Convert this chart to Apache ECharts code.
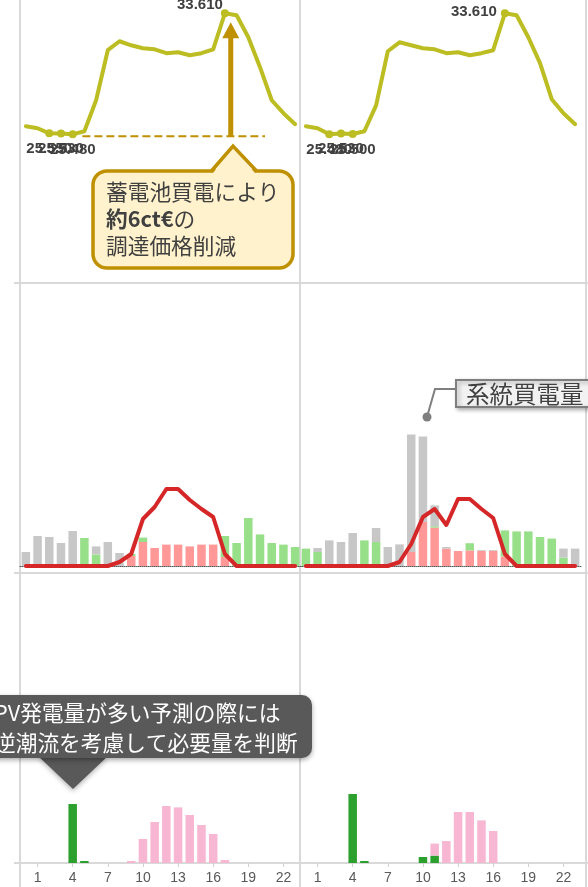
<!DOCTYPE html>
<html><head><meta charset="utf-8">
<script src="https://cdn.jsdelivr.net/npm/echarts@6/dist/echarts.min.js"></script>
<style>html,body{margin:0;padding:0;background:#fff}#c{width:588px;height:887px}</style>
</head><body><div id="c"></div>
<script>
// ---------- data ----------
const hours = ['0','1','2','3','4','5','6','7','8','9','10','11','12','13','14','15','16','17','18','19','20','21','22','23'];
// top row: price (ct€/kWh)
const priceDay1 = [26.03,25.89,25.55,25.53,25.48,25.69,27.77,31.13,31.73,31.46,31.26,31.19,30.93,30.99,30.79,30.93,31.19,33.61,33.48,32.00,29.99,27.77,26.90,26.16];
const priceDay2 = [26.03,25.89,25.48,25.53,25.50,25.69,27.43,31.06,31.66,31.46,31.26,31.19,30.93,30.99,30.79,30.93,31.13,33.61,33.48,32.00,30.26,27.84,26.90,26.16];
// middle row: supply mix (stacked) + PV generation line
const pvSelfDay1  = [0,0,0,0,0,0,0,0,0,5,12,9,10.7,10.7,9.8,10.7,10.7,4.5,0,0,0,0,0,0];
const battDisDay1 = [0,0,0,0,0,14,5.8,0,0,1,2.2,0,0,0,0,0,0,10.5,11.5,24,15.8,11.5,10.7,9.5];
const gridBuyDay1 = [7,15,14.5,11.5,17.5,0,4,12,6.5,0,0,0,0,0,0,0,0,0,0,0,0,0,0,0];
const pvGenDay1   = [0,0,0,0,0,0,0,0,2,6,23.5,29.5,38.5,38.5,33,28.5,24.5,6,0,0,0,0,0,0];
const pvSelfDay2  = [0,0,0,0,0,0,0,0,0,7,22,19.2,8.7,7.5,7.8,7.5,7.5,4.8,0,0,0,0,0,0];
const battDisDay2 = [8.7,7,0,0,0,12.8,12,0,0,0,0,0.7,0,0,3.6,0,0,13,17.3,17.3,14.5,13.7,4.2,0];
const gridBuyDay2 = [0,2,12.8,12,16.5,0,7,9.5,10.8,58.7,42.8,10.4,0.8,0,0,0.4,0.4,0,0,0,0,0,4.5,8.7];
const pvGenDay2   = [0,0,0,0,0,0,0,0,2,11,24.5,28.5,20.5,33.5,33.5,28.5,24,6,0,0,0,0,0,0];
// bottom row: battery charging
const battBuyDay1  = [0,0,0,0,29.5,1,0,0,0,0,0,0,0,0,0,0,0,0,0,0,0,0,0,0];
const pvChargeDay1 = [0,0,0,0,0,0,0,0,0,1,12,20.5,28.5,27.8,24,19,14.5,1.5,0,0,0,0,0,0];
const battBuyDay2  = [0,0,0,0,34.5,1,0,0,0,0,3,3.7,0,0,0,0,0,0,0,0,0,0,0,0];
const pvChargeDay2 = [0,0,0,0,0,0,0,0,0,0,0,6,11,25.5,25.5,21.3,16,0,0,0,0,0,0,0];

// ---------- chart ----------
const chart = echarts.init(document.getElementById('c'), null, {renderer:'canvas'});
const colLeft = [20, 300], colW = 281;
const rows = [{top:0,h:283},{top:286,h:280},{top:583,h:280}];
const grids = [], xAxes = [], yAxes = [];
const yRange = [[15.5,34.5],[0,140],[0,140]];
rows.forEach((r,ri)=>{
  colLeft.forEach((l,ci)=>{
    grids.push({left:l, top:r.top, width:colW, height:r.h, containLabel:false, outerBoundsMode:'none'});
    const gi = grids.length-1;
    const xa = {type:'category', data:hours, gridIndex:gi, boundaryGap:true,
      axisLine:{show:false}, axisTick:{show:false}, axisLabel:{show:false}, splitLine:{show:false}};
    if (ri===1) xa.axisLine = {show:true, lineStyle:{type:'dotted', color:'#595959', width:1}};
    if (ri===2) {
      xa.axisTick = {show:true, alignWithLabel:true, interval:(i)=>i%3===1, length:4, lineStyle:{color:'#d0d0d0', width:1}};
      xa.axisLabel = {show:true, interval:(i)=>i%3===1, color:'#595959', fontSize:14, margin:8, fontFamily:'Liberation Sans'};
    }
    xAxes.push(xa);
    yAxes.push({type:'value', gridIndex:gi, min:yRange[ri][0], max:yRange[ri][1], show:false, splitLine:{show:false}});
  });
});

function priceSeries(data, ai, peakOffset){
  const sorted = data.map((v,i)=>[v,i]).sort((a,b)=>a[0]-b[0]);
  const lows = sorted.slice(0,3).map(d=>d[1]);
  const peak = sorted[sorted.length-1][1];
  return {type:'line', xAxisIndex:ai, yAxisIndex:ai, symbol:'none', showAllSymbol:true, z:3,
    lineStyle:{color:'#bcbd22', width:4, cap:'round', join:'round'}, itemStyle:{color:'#bcbd22'},
    label:{show:false, formatter:p=>Number(p.value).toFixed(3), fontSize:15, fontWeight:'bold', color:'#404040', fontFamily:'Liberation Sans'},
    data:data.map((v,i)=>{
      if (lows.includes(i)) return {value:v, symbol:'circle', symbolSize:8, label:{show:true, position:'bottom', distance:4}};
      if (i===peak) return {value:v, symbol:'circle', symbolSize:8, label:{show:true, position:'left', distance:5, offset:peakOffset}};
      return {value:v};
    })};
}
function barS(data, ai, color, stack){
  return {type:'bar', xAxisIndex:ai, yAxisIndex:ai, stack:stack, data:data, barWidth:8.5, itemStyle:{color:color}, z:2};
}
function lineS(data, ai, color){
  return {type:'line', xAxisIndex:ai, yAxisIndex:ai, data:data, symbol:'none', z:4,
    lineStyle:{color:color, width:4, cap:'round', join:'round'}};
}

const series = [
  priceSeries(priceDay1, 0, [7,-8]),
  priceSeries(priceDay2, 1, [1,-1]),
  barS(pvSelfDay1, 2, '#ff9896', 'm1'), barS(battDisDay1, 2, '#98df8a', 'm1'), barS(gridBuyDay1, 2, '#c7c7c7', 'm1'),
  lineS(pvGenDay1, 2, '#d62728'),
  barS(pvSelfDay2, 3, '#ff9896', 'm2'), barS(battDisDay2, 3, '#98df8a', 'm2'), barS(gridBuyDay2, 3, '#c7c7c7', 'm2'),
  lineS(pvGenDay2, 3, '#d62728'),
  barS(battBuyDay1, 4, '#2ca02c', 'b1'), barS(pvChargeDay1, 4, '#f7b6d2', 'b1'),
  barS(battBuyDay2, 5, '#2ca02c', 'b2'), barS(pvChargeDay2, 5, '#f7b6d2', 'b2')
];

chart.setOption({animation:false, grid:grids, xAxis:xAxes, yAxis:yAxes, series:series});

// ---------- annotations ----------
const G = '#d9d9d9';
const els = [];
[20,300,586].forEach(x=>els.push({type:'line', shape:{x1:x,y1:0,x2:x,y2:887}, style:{stroke:G, lineWidth:2}, z:0}));
[283,573,863].forEach(y=>els.push({type:'line', shape:{x1:14,y1:y,x2:588,y2:y}, style:{stroke:G, lineWidth:2}, z:0}));

// golden arrow from cheapest level up to peak
const minV = Math.min(...priceDay1), maxI = priceDay1.indexOf(Math.max(...priceDay1));
const pPeak = chart.convertToPixel({xAxisIndex:0,yAxisIndex:0},[hours[maxI], priceDay1[maxI]]);
const pNext = chart.convertToPixel({xAxisIndex:0,yAxisIndex:0},[hours[maxI+1], priceDay1[maxI+1]]);
const pMin  = chart.convertToPixel({xAxisIndex:0,yAxisIndex:0},[hours[5], minV]);
const pEnd  = chart.convertToPixel({xAxisIndex:0,yAxisIndex:0},[hours[20], minV]);
const ax = (pPeak[0]+pNext[0])/2, baseY = pMin[1]+2, tipY = pPeak[1]+9;
const GOLD = '#bf9000';
els.push({type:'line', shape:{x1:pMin[0]-2,y1:baseY,x2:pEnd[0]+5,y2:baseY}, style:{stroke:GOLD, lineWidth:2, lineDash:[8,4]}, z:50});
els.push({type:'line', shape:{x1:ax,y1:baseY,x2:ax,y2:tipY+14}, style:{stroke:GOLD, lineWidth:5}, z:50});
els.push({type:'polygon', shape:{points:[[ax,tipY],[ax-8.5,tipY+16],[ax+8.5,tipY+16]]}, style:{fill:GOLD}, z:50});

// golden callout
els.push({type:'rect', shape:{x:93,y:171,width:200,height:97,r:14}, style:{fill:'#fff2cc', stroke:GOLD, lineWidth:3.5}, z:60});
els.push({type:'polygon', shape:{points:[[213,173],[233,148],[255,173]]}, style:{fill:'#fff2cc'}, z:61});
els.push({type:'polyline', shape:{points:[[211,171.5],[233,146],[257,171.5]]}, style:{stroke:GOLD, lineWidth:3.5, fill:null}, z:62});
const jf = '"Noto Sans CJK JP","Noto Sans",sans-serif';
els.push({type:'text', x:106, y:192, style:{text:'蓄電池買電により', fill:'#404040', fontSize:21.7, fontFamily:jf, verticalAlign:'middle'}, z:63});
els.push({type:'text', x:106, y:219, style:{text:'{b|約6ct€}の', fill:'#404040', fontSize:21.7, fontFamily:jf, verticalAlign:'middle',
  rich:{b:{fontWeight:'bold', fontSize:21.7, fontFamily:jf, fill:'#404040'}}}, z:63});
els.push({type:'text', x:106, y:246, style:{text:'調達価格削減', fill:'#404040', fontSize:21.7, fontFamily:jf, verticalAlign:'middle'}, z:63});

// dark callout (bottom-left)
els.push({type:'rect', shape:{x:-30,y:695,width:342,height:63,r:10}, style:{fill:'#595959', shadowBlur:5, shadowOffsetY:2, shadowColor:'rgba(0,0,0,0.35)'}, z:60});
els.push({type:'polygon', shape:{points:[[38,756],[73,789],[108,756]]}, style:{fill:'#595959', shadowBlur:5, shadowOffsetY:2, shadowColor:'rgba(0,0,0,0.3)'}, z:59});
els.push({type:'text', x:-6, y:713, style:{text:'PV発電量が多い予測の際には', fill:'#ffffff', fontSize:21.7, fontFamily:jf, verticalAlign:'middle'}, z:63});
els.push({type:'text', x:-6, y:743, style:{text:'逆潮流を考慮して必要量を判断', fill:'#ffffff', fontSize:21.7, fontFamily:jf, verticalAlign:'middle'}, z:63});

// grid-purchase label callout
els.push({type:'polyline', shape:{points:[[427,417],[435,389],[457,389]]}, style:{stroke:'#7f7f7f', lineWidth:2, fill:null}, z:60});
els.push({type:'circle', shape:{cx:427,cy:417,r:4.5}, style:{fill:'#7f7f7f'}, z:60});
els.push({type:'rect', shape:{x:456,y:380,width:150,height:27}, style:{fill:'#f2f2f2', stroke:'#7f7f7f', lineWidth:2, shadowBlur:4, shadowOffsetX:2, shadowOffsetY:2, shadowColor:'rgba(0,0,0,0.3)'}, z:60});
els.push({type:'text', x:466, y:394, style:{text:'系統買電量', fill:'#404040', fontSize:23.5, fontFamily:jf, verticalAlign:'middle'}, z:63});

chart.setOption({graphic:{elements:els}});
</script></body></html>
